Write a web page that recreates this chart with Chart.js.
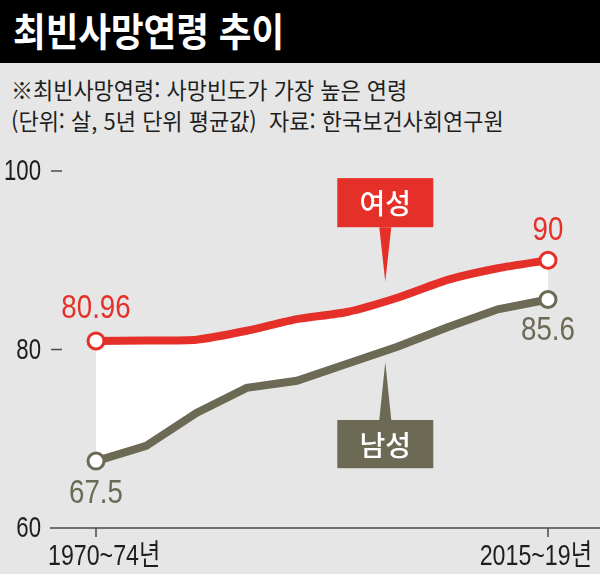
<!DOCTYPE html>
<html lang="ko">
<head>
<meta charset="utf-8">
<title>최빈사망연령 추이</title>
<script src="https://cdn.jsdelivr.net/npm/chart.js@4"></script>
<style>
    html, body {
        margin: 0;
        padding: 0;
        width: 600px;
        height: 574px;
        overflow: hidden;
        background: #e6e6e6;
        font-family: 'Noto Sans CJK KR', sans-serif;
    }
    .title-bar {
        position: absolute;
        left: 0;
        top: 0;
        width: 600px;
        height: 63px;
        background: #000;
    }
    .title-bar span {
        position: absolute;
        left: 13px;
        top: 2px;
        color: #fff;
        font-size: 39px;
        font-weight: 700;
        line-height: 54px;
        transform: scaleX(0.91);
        transform-origin: left center;
        white-space: nowrap;
    }
    .note {
        position: absolute;
        left: 11px;
        color: #1e1e1e;
        font-size: 23px;
        line-height: 28px;
        transform: scaleX(0.955);
        transform-origin: left center;
        white-space: nowrap;
    }
    #chartWrap {
        position: absolute;
        left: 0;
        top: 150px;
        width: 600px;
        height: 424px;
    }
</style>
</head>
<body>
<div class="title-bar"><span>최빈사망연령 추이</span></div>
<div class="note" style="top:75px">※최빈사망연령: 사망빈도가 가장 높은 연령</div>
<div class="note" style="top:106px">(단위: 살, 5년 단위 평균값)&nbsp; 자료: 한국보건사회연구원</div>
<div id="chartWrap"><canvas id="deathAgeChart" width="600" height="424"></canvas></div>

<script>
// Données
const periods = ['1970~74년', '1975~79년', '1980~84년', '1985~89년', '1990~94년',
                 '1995~99년', '2000~04년', '2005~09년', '2010~14년', '2015~19년'];
const femaleAges = [80.96, 81.0, 81.1, 82.1, 83.4, 84.2, 85.8, 87.8, 89.1, 90];
const maleAges = [67.5, 69.2, 72.9, 75.7, 76.5, 78.4, 80.3, 82.5, 84.5, 85.6];
const seriesNames = ['여성', '남성'];
const yTicks = [60, 80, 100];

const RED = '#e5302a';
const OLIVE = '#6c6a55';
const NUM_FONT = "'Liberation Sans', 'Noto Sans CJK KR', sans-serif";

// Cercles seulement aux extrémités
function endPoints(n, r) {
    return periods.map((_, i) => (i === 0 || i === n - 1) ? r : 0);
}

// Texte condensé (police étroite simulée)
function narrowText(ctx, text, x, y, align, sx) {
    ctx.save();
    ctx.translate(x, y);
    ctx.scale(sx, 1);
    ctx.textAlign = align;
    ctx.fillText(text, 0, 0);
    ctx.restore();
}

/**
 * Dessine l'axe, les étiquettes, les valeurs et les bulles
 */
const decorPlugin = {
    id: 'decor',
    afterDatasetsDraw(chart) {
        const ctx = chart.ctx;
        const x = chart.scales.x;
        const y = chart.scales.y;
        const area = chart.chartArea;
        const last = periods.length - 1;

        ctx.save();
        ctx.textBaseline = 'middle';

        // Ligne de base + repères
        ctx.strokeStyle = '#4a4a4a';
        ctx.lineWidth = 1.5;
        ctx.beginPath();
        ctx.moveTo(50, area.bottom);
        ctx.lineTo(600, area.bottom);
        [0, last].forEach(i => {
            const px = x.getPixelForValue(i);
            ctx.moveTo(px, area.bottom);
            ctx.lineTo(px, area.bottom + 9);
        });
        ctx.stroke();

        // Axe Y : étiquettes et tirets
        ctx.fillStyle = '#1e1e1e';
        ctx.font = '30px ' + NUM_FONT;
        yTicks.forEach((v, i) => {
            const py = y.getPixelForValue(v);
            narrowText(ctx, String(v), 41, py + 1, 'right', 0.74);
            if (i > 0) {
                ctx.beginPath();
                ctx.moveTo(51, py);
                ctx.lineTo(62, py);
                ctx.stroke();
            }
        });

        // Étiquettes X (premier et dernier)
        ctx.font = '29px ' + NUM_FONT;
        narrowText(ctx, periods[0], 48, area.bottom + 29, 'left', 0.8);
        narrowText(ctx, periods[last], 592, area.bottom + 29, 'right', 0.8);

        // Valeurs aux extrémités
        ctx.font = '33px ' + NUM_FONT;
        ctx.fillStyle = RED;
        narrowText(ctx, String(femaleAges[0]), x.getPixelForValue(0), y.getPixelForValue(femaleAges[0]) - 32, 'center', 0.84);
        narrowText(ctx, String(femaleAges[last]), x.getPixelForValue(last), y.getPixelForValue(femaleAges[last]) - 29, 'center', 0.84);
        ctx.fillStyle = OLIVE;
        narrowText(ctx, String(maleAges[0]), x.getPixelForValue(0), y.getPixelForValue(maleAges[0]) + 33, 'center', 0.84);
        narrowText(ctx, String(maleAges[last]), x.getPixelForValue(last), y.getPixelForValue(maleAges[last]) + 31, 'center', 0.84);

        // Bulles « 여성 » / « 남성 »
        const cx = x.getPixelForValue(5.76);
        drawTag(ctx, cx, y.getPixelForValue(99.2), y.getPixelForValue(93.7), y.getPixelForValue(87.6), RED, seriesNames[0]);
        drawTag(ctx, cx, y.getPixelForValue(66.7), y.getPixelForValue(72.1), y.getPixelForValue(78.6), OLIVE, seriesNames[1]);

        ctx.restore();
    }
};

function drawTag(ctx, cx, farY, nearY, tipY, color, label) {
    const w = 96;
    const top = Math.min(farY, nearY);
    const h = Math.abs(farY - nearY);
    ctx.fillStyle = color;
    ctx.fillRect(cx - w / 2, top, w, h);
    ctx.beginPath();
    ctx.moveTo(cx - 6, nearY);
    ctx.lineTo(cx + 6, nearY);
    ctx.lineTo(cx, tipY);
    ctx.closePath();
    ctx.fill();
    ctx.fillStyle = '#fff';
    ctx.font = "500 28px 'Noto Sans CJK KR', sans-serif";
    ctx.textAlign = 'center';
    ctx.textBaseline = 'middle';
    ctx.fillText(label, cx, top + h / 2 + 1);
}

document.addEventListener('DOMContentLoaded', function() {
    if (typeof Chart === 'undefined') {
        console.error('Chart.js n\'est pas chargé.');
        return;
    }
    new Chart(document.getElementById('deathAgeChart'), {
        type: 'line',
        data: {
            labels: periods,
            datasets: [
                {
                    label: seriesNames[0],
                    data: femaleAges,
                    borderColor: RED,
                    borderWidth: 8,
                    tension: 0.2,
                    fill: false,
                    pointRadius: endPoints(periods.length, 8),
                    pointBackgroundColor: '#fff',
                    pointBorderColor: RED,
                    pointBorderWidth: 3
                },
                {
                    label: seriesNames[1],
                    data: maleAges,
                    borderColor: OLIVE,
                    borderWidth: 8,
                    tension: 0,
                    fill: '-1',
                    backgroundColor: '#ffffff',
                    pointRadius: endPoints(periods.length, 8),
                    pointBackgroundColor: '#fff',
                    pointBorderColor: OLIVE,
                    pointBorderWidth: 3
                }
            ]
        },
        options: {
            responsive: false,
            animation: false,
            layout: {
                padding: { top: 21, right: 52, bottom: 46, left: 96 }
            },
            plugins: {
                legend: { display: false },
                title: { display: false },
                tooltip: { enabled: false }
            },
            scales: {
                x: {
                    display: false,
                    offset: false
                },
                y: {
                    display: false,
                    min: yTicks[0],
                    max: yTicks[yTicks.length - 1]
                }
            }
        },
        plugins: [decorPlugin]
    });
});
</script>
</body>
</html>
